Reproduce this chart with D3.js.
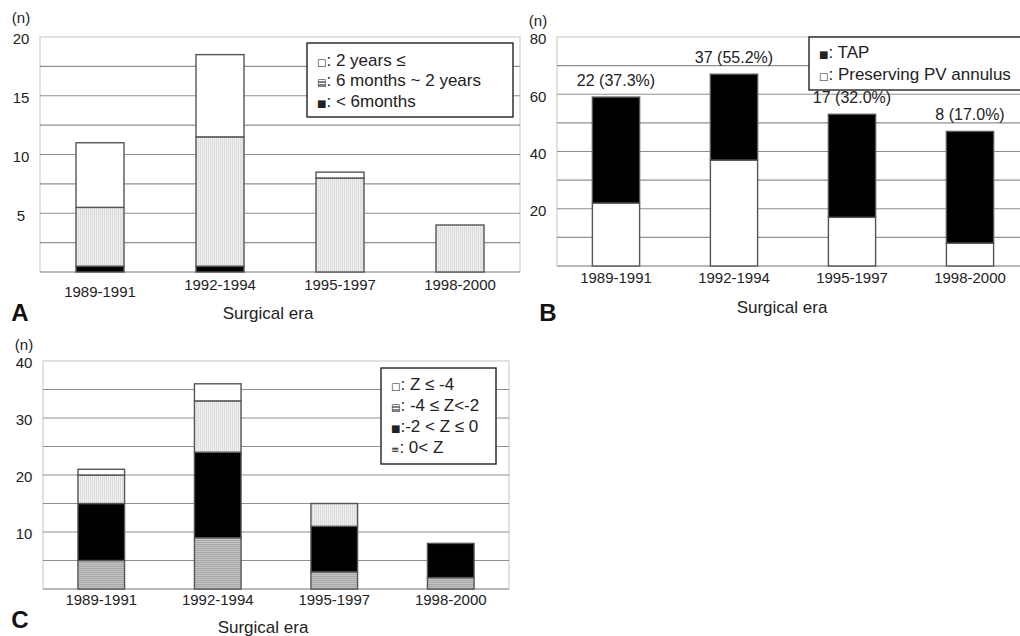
<!DOCTYPE html>
<html>
<head>
<meta charset="utf-8">
<script src="https://cdn.jsdelivr.net/npm/d3@7"></script>
<style>
  body { margin: 0; background: #fff; }
  svg { display: block; font-family: Arial, "Liberation Sans", sans-serif; }
</style>
</head>
<body>
<svg id="chart" width="1020" height="636"></svg>
<script>
// shared categories
const eras = ["1989-1991", "1992-1994", "1995-1997", "1998-2000"]

// panel A: age at operation
const aLess6m = [0.5, 0.5, 0, 0]
const a6mTo2y = [5, 11, 8, 4]
const aOver2y = [5.5, 7, 0.5, 0]
const aTicks = [5, 10, 15, 20]

// panel B: TAP vs preserving PV annulus
const bPreserving = [22, 37, 17, 8]
const bTap = [37, 30, 36, 39]
const bLabels = ["22 (37.3%)", "37 (55.2%)", "17 (32.0%)", "8 (17.0%)"]
const bTicks = [20, 40, 60, 80]

// panel C: Z score
const cOver0 = [5, 9, 3, 2]
const cM2to0 = [10, 15, 8, 6]
const cM4toM2 = [5, 9, 4, 0]
const cUnderM4 = [1, 3, 0, 0]
const cTicks = [10, 20, 30, 40]

const svg = d3.select("#chart")
const defs = svg.append("defs")

// light dotted fill
const dots = defs.append("pattern").attr("id", "dots")
    .attr("width", 2).attr("height", 2).attr("patternUnits", "userSpaceOnUse")
dots.append("rect").attr("width", 2).attr("height", 2).attr("fill", "#efefef")
dots.append("rect").attr("width", 1).attr("height", 2).attr("fill", "#dcdcdc")

// horizontal striped fill
const stripes = defs.append("pattern").attr("id", "stripes")
    .attr("width", 2).attr("height", 2).attr("patternUnits", "userSpaceOnUse")
stripes.append("rect").attr("width", 2).attr("height", 2).attr("fill", "#c4c4c4")
stripes.append("rect").attr("width", 2).attr("height", 1).attr("fill", "#a8a8a8")

function label(g, x, y, str, size, anchor) {
    return g.append("text")
        .attr("x", x).attr("y", y)
        .attr("dy", "0.35em")
        .attr("text-anchor", anchor || "middle")
        .attr("font-size", size || 15)
        .attr("fill", "#222")
        .text(str)
}

function panel(cfg) {
    const g = svg.append("g")
    const x = d3.scaleBand().domain(eras).range([cfg.x0, cfg.x1])
        .paddingInner(0.6).paddingOuter(0.3)
    const y = d3.scaleLinear().domain([0, cfg.max]).range([cfg.yBot, cfg.yTop])

    // plot frame
    g.append("rect")
        .attr("x", cfg.x0).attr("y", cfg.yTop)
        .attr("width", cfg.x1 - cfg.x0).attr("height", cfg.yBot - cfg.yTop)
        .attr("fill", "#fff").attr("stroke", "#cfcfcf").attr("stroke-width", 1.2)

    // grid lines
    g.append("g").selectAll("line")
        .data(d3.range(0, cfg.max, cfg.step))
        .join("line")
        .attr("x1", cfg.x0).attr("x2", cfg.x1)
        .attr("y1", d => y(d)).attr("y2", d => y(d))
        .attr("stroke", "#8f8f8f").attr("stroke-width", 1.2)

    // y tick labels
    cfg.ticks.forEach(d => label(g, cfg.tickX, y(d) + 2, d, 15))
    label(g, cfg.tickX, cfg.nY, "(n)", 15)

    // stacked bars
    const stack = d3.stack().keys(cfg.series.map((s, i) => i))
    const rows = eras.map((e, j) => {
        const r = { era: e }
        cfg.series.forEach((s, i) => r[i] = s.values[j])
        return r
    })
    const layers = stack(rows)
    layers.forEach((layer, i) => {
        g.append("g").selectAll("rect")
            .data(layer.filter(d => d[1] - d[0] > 0))
            .join("rect")
            .attr("x", d => x(d.data.era))
            .attr("width", x.bandwidth())
            .attr("y", d => y(d[1]))
            .attr("height", d => y(d[0]) - y(d[1]))
            .attr("fill", cfg.series[i].fill)
            .attr("stroke", "#555").attr("stroke-width", 1.4)
    })

    // category labels
    eras.forEach((d, i) => label(g, x(d) + x.bandwidth() / 2,
        cfg.catY + (cfg.firstDrop && i === 0 ? 7 : 0), d, 15))

    label(g, cfg.titleX, cfg.titleY, "Surgical era", 17)

    g.append("text")
        .attr("x", cfg.letterX).attr("y", cfg.letterY).attr("dy", "0.35em")
        .attr("text-anchor", "middle").attr("font-size", 24).attr("font-weight", "bold")
        .attr("fill", "#111")
        .text(cfg.letter)

    // legend
    const lg = g.append("g")
    lg.append("rect")
        .attr("x", cfg.leg.x).attr("y", cfg.leg.y)
        .attr("width", cfg.leg.w).attr("height", cfg.leg.h)
        .attr("fill", "#fff").attr("stroke", "#222").attr("stroke-width", 1.4)
    cfg.leg.items.forEach((it, i) => {
        const t = label(lg, cfg.leg.x + 10, cfg.leg.y + cfg.leg.first + i * cfg.leg.gap, "", 17, "start")
        t.append("tspan").attr("font-size", 10).attr("font-family", "DejaVu Sans").text(it[0])
        t.append("tspan").text(it[1])
    })

    return { x, y, g }
}

panel({
    x0: 40, x1: 520, yTop: 37, yBot: 272, max: 20, step: 2.5, ticks: aTicks,
    tickX: 21, nY: 18, catY: 285, firstDrop: true, titleX: 268, titleY: 313,
    letter: "A", letterX: 20, letterY: 313,
    series: [
        { values: aLess6m, fill: "#000" },
        { values: a6mTo2y, fill: "url(#dots)" },
        { values: aOver2y, fill: "#fff" }
    ],
    leg: { x: 307, y: 43, w: 206, h: 74, first: 17, gap: 20.5,
        items: [["□", ": 2 years ≤"], ["▤", ": 6 months ~ 2 years"], ["■", ": < 6months"]] }
})

const pb = panel({
    x0: 557, x1: 1029, yTop: 37, yBot: 266, max: 80, step: 10, ticks: bTicks,
    tickX: 538, nY: 21, catY: 278, titleX: 782, titleY: 307,
    letter: "B", letterX: 548, letterY: 313,
    series: [
        { values: bPreserving, fill: "#fff" },
        { values: bTap, fill: "#000" }
    ],
    leg: { x: 809, y: 37, w: 230, h: 53, first: 15, gap: 22,
        items: [["■", ": TAP"], ["□", ": Preserving PV annulus"]] }
})

// percentage labels above B bars
eras.forEach((d, i) => label(pb.g, pb.x(d) + pb.x.bandwidth() / 2,
    pb.y(bPreserving[i] + bTap[i]) - 17, bLabels[i], 16))

panel({
    x0: 43, x1: 509, yTop: 361, yBot: 589, max: 40, step: 5, ticks: cTicks,
    tickX: 24, nY: 345, catY: 600, titleX: 263, titleY: 627,
    letter: "C", letterX: 20, letterY: 620,
    series: [
        { values: cOver0, fill: "url(#stripes)" },
        { values: cM2to0, fill: "#000" },
        { values: cM4toM2, fill: "url(#dots)" },
        { values: cUnderM4, fill: "#fff" }
    ],
    leg: { x: 381, y: 368, w: 115, h: 96, first: 16, gap: 21,
        items: [["□", ": Z ≤ -4"], ["▤", ": -4 ≤ Z<-2"], ["■", ":-2 < Z ≤ 0"], ["≡", ": 0< Z"]] }
})
</script>
</body>
</html>
